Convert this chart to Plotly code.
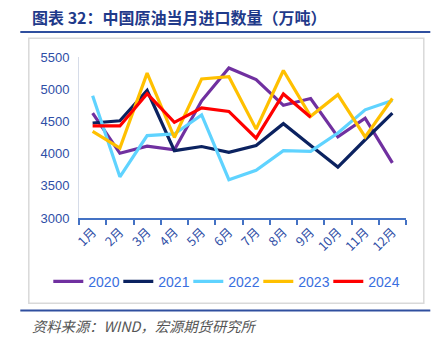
import plotly.graph_objects as go

months = ["1月", "2月", "3月", "4月", "5月", "6月", "7月", "8月", "9月", "10月", "11月", "12月"]
y2020 = [4630, 4005, 4115, 4060, 4820, 5330, 5150, 4750, 4855, 4260, 4550, 3855]
y2021 = [4475, 4510, 4980, 4045, 4110, 4020, 4125, 4465, 4125, 3790, 4215, 4630]
y2022 = [4900, 3640, 4280, 4305, 4600, 3595, 3740, 4045, 4035, 4320, 4680, 4825]
y2023 = [4345, 4085, 5250, 4250, 5160, 5195, 4380, 5290, 4580, 4915, 4260, 4855]
y2024 = [4430, 4430, 4930, 4485, 4710, 4655, 4240, 4925, 4565]

series = [
    ("2020", y2020, "#7030A0"),
    ("2021", y2021, "#0B2260"),
    ("2022", y2022, "#5FD3FF"),
    ("2023", y2023, "#FFC000"),
    ("2024", y2024, "#FF0000"),
]

W, H = 440, 342
L, R, T, B = 78.7, 405.7, 57.3, 218.3

def px(x):
    return (x - L) / (R - L)

def py(y):
    return (B - y) / (B - T)

# left edge of each legend entry's line sample
legend_starts = [55, 125, 195, 265, 335]
legend_font = dict(size=14, color="#3A6FE0")

fig = go.Figure()
legend_layouts = {}
for i, (name, vals, color) in enumerate(series):
    key = "legend" if i == 0 else f"legend{i + 1}"
    fig.add_trace(go.Scatter(
        x=months[:len(vals)], y=vals, name=name, mode="lines",
        line=dict(color=color, width=3.2), legend=key,
    ))
    legend_layouts[key] = dict(
        orientation="h", x=px(legend_starts[i] - 7), y=py(282),
        xanchor="left", yanchor="middle", font=legend_font,
        bgcolor="rgba(0,0,0,0)",
    )

tick_blue = "#2E4EA6"
fig.update_layout(
    width=W, height=H,
    margin=dict(l=L, r=W - R, t=T, b=H - B),
    paper_bgcolor="white", plot_bgcolor="white",
    font=dict(family="Liberation Sans, Arial, sans-serif"),
    showlegend=True,
    xaxis=dict(
        type="category", range=[-0.5, 11.5], tickangle=-45,
        showline=True, linecolor="#4472C4", linewidth=2,
        ticks="outside", tickson="boundaries", ticklen=5, tickcolor="#4472C4", tickwidth=2,
        tickfont=dict(size=12.5, color=tick_blue, family="Noto Sans CJK SC"),
        showgrid=False, zeroline=False,
    ),
    yaxis=dict(
        range=[3000, 5500], dtick=500, showline=True, linecolor="#D6DCE8", linewidth=1,
        tickfont=dict(size=13, color=tick_blue), showgrid=False, zeroline=False,
        ticks="", ticklabelstandoff=6,
    ),
    **legend_layouts,
)

shapes = [
    # outer frame
    dict(type="rect", xref="paper", yref="paper", x0=px(28.5), x1=px(423.5), y0=py(303.5), y1=py(38.5),
         line=dict(color="#D9D9D9", width=1.5), layer="below"),
    # rules above and below the chart
    dict(type="line", xref="paper", yref="paper", x0=px(20), x1=px(430), y0=py(32.3), y1=py(32.3),
         line=dict(color="#2F4F9F", width=2)),
    dict(type="line", xref="paper", yref="paper", x0=px(20), x1=px(430), y0=py(310.7), y1=py(310.7),
         line=dict(color="#2F4F9F", width=2)),
]
fig.update_layout(shapes=shapes)

fig.add_annotation(
    text="<b>图表 32：中国原油当月进口数量（万吨）</b>",
    xref="paper", yref="paper", x=px(30), y=py(17), xanchor="left", yanchor="middle",
    showarrow=False, font=dict(size=16, color="#1F3A8A", family="Noto Sans CJK SC"),
)
fig.add_annotation(
    text="<i>资料来源：WIND，宏源期货研究所</i>",
    xref="paper", yref="paper", x=px(30), y=py(326), xanchor="left", yanchor="middle",
    showarrow=False, font=dict(size=14.3, color="#555555", family="Noto Sans CJK SC"),
)

fig.write_html("out.html")
